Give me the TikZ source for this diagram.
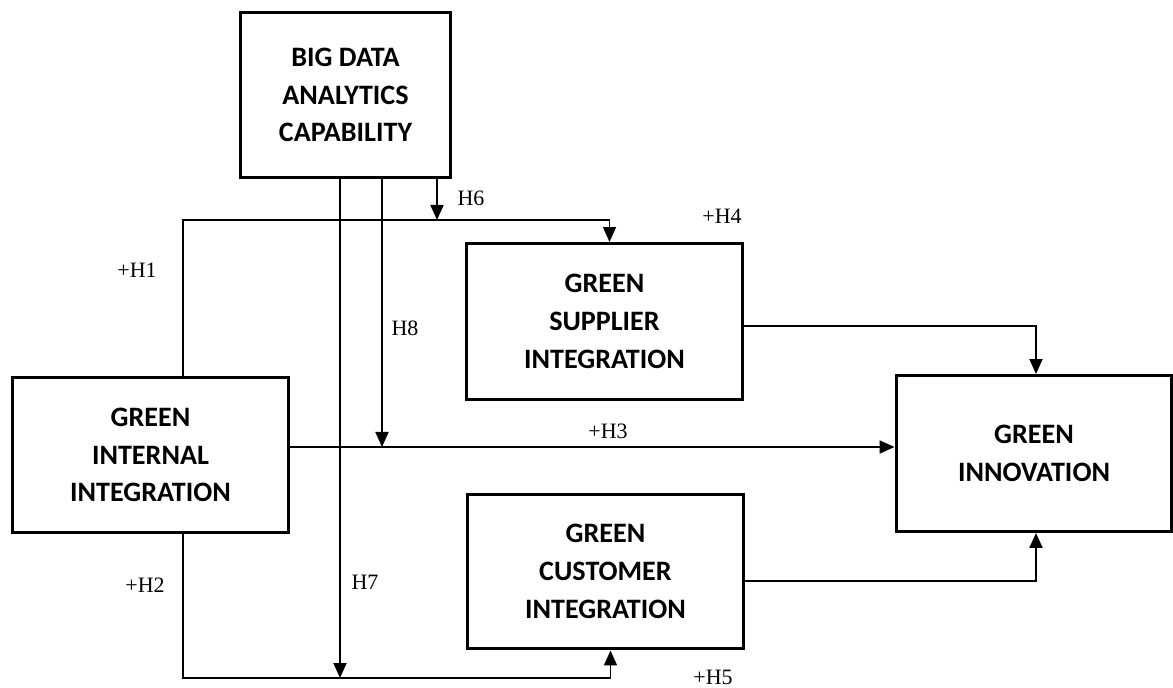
\documentclass[tikz,border=0pt]{standalone}
\usepackage{fontspec}
\setmainfont{Liberation Serif}
\newfontfamily\boxfont{Carlito}
\usepackage{tikz}
\usetikzlibrary{arrows.meta, positioning}

\begin{document}
\begin{tikzpicture}[x=0.02cm, y=-0.02cm,
                box/.style={draw, line width=1.7pt, align=center, inner sep=0pt,
                        font=\boxfont\bfseries\fontsize{16}{21.5}\selectfont},
                arr/.style={line width=1.1pt, -{Triangle[length=0.3cm, width=0.26cm]}},
                hyp/.style={font=\fontsize{12.5}{14}\selectfont}]
                \useasboundingbox (0,0) rectangle (1173,688);

                \node[box, minimum width=4.22cm, minimum height=3.32cm] (bdac) at (345.5,95) {BIG DATA\\ANALYTICS\\CAPABILITY};
                \node[box, minimum width=5.54cm, minimum height=3.12cm] (gii) at (150.5,455) {GREEN\\INTERNAL\\INTEGRATION};
                \node[box, minimum width=5.54cm, minimum height=3.12cm] (gsi) at (604.5,321.5) {GREEN\\SUPPLIER\\INTEGRATION};
                \node[box, minimum width=5.54cm, minimum height=3.1cm] (gci) at (605.5,571.5) {GREEN\\CUSTOMER\\INTEGRATION};
                \node[box, minimum width=5.52cm, minimum height=3.12cm] (gin) at (1034,453.5) {GREEN\\INNOVATION};

                \coordinate (h1) at (183,220);
                \coordinate (h2) at (183,678);
                \coordinate (h6) at (437,220);
                \coordinate (h7) at (340,678);
                \coordinate (h8) at (382,447);

                \draw[arr, line width=0.8pt] (gii.north -| h1) -- (h1) -| ([xshift=1mm]gsi.north);
                \draw[arr, line width=0.8pt] (gii.south -| h2) -- (h2) -| ([xshift=1mm]gci.south);
                \draw[arr] (gii.east |- h8) -- (gin.west |- h8);
                \draw[arr] (bdac.south -| h6) -- (h6);
                \draw[arr] (bdac.south -| h7) -- (h7);
                \draw[arr] (bdac.south -| h8) -- (h8);
                \draw[arr] ([yshift=-0.09cm]gsi.east) -| ([xshift=0.04cm]gin.north);
                \draw[arr] ([yshift=-0.19cm]gci.east) -| ([xshift=0.04cm]gin.south);

                \node[hyp] (lh1) at (137,270) {+H1};
                \node[hyp] (lh2) at (145,585) {+H2};
                \node[hyp] (lh3) at (608,431) {+H3};
                \node[hyp] (lh4) at (722,216) {+H4};
                \node[hyp] (lh5) at (713,677) {+H5};
                \node[hyp] (lh6) at (471,198) {H6};
                \node[hyp] (lh7) at (365,582) {H7};
                \node[hyp] (lh8) at (405,328) {H8};
            \end{tikzpicture}
\end{document}
